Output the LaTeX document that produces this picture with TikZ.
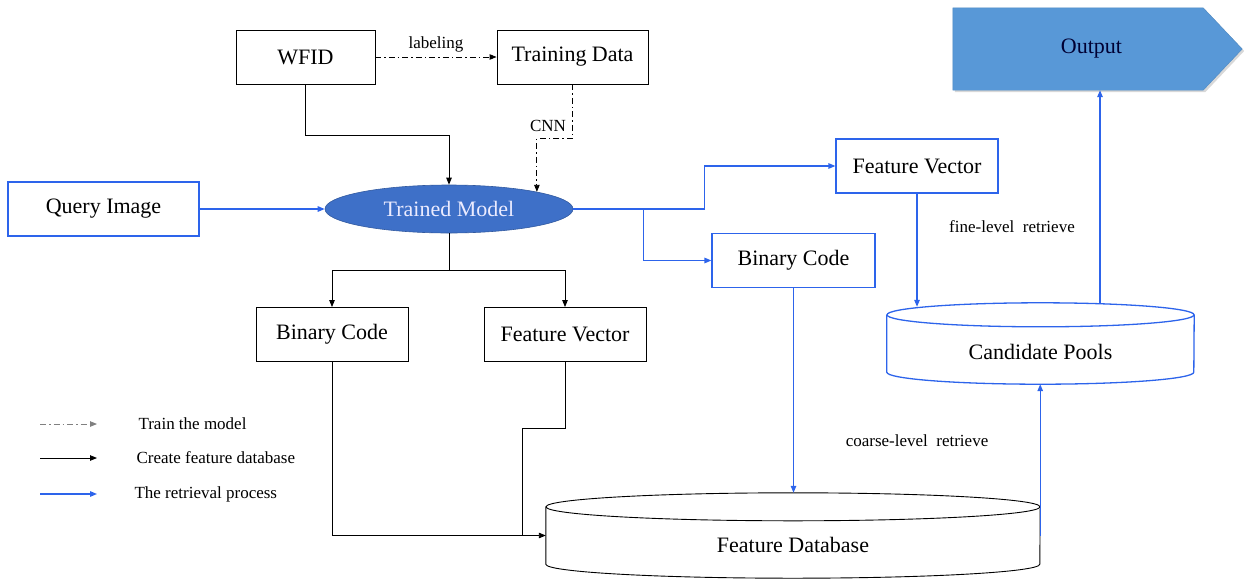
\documentclass[tikz,border=0pt]{standalone}
\usepackage{fontspec}
\setmainfont{Liberation Serif}
\usetikzlibrary{positioning}
\usetikzlibrary{arrows.meta}
\usetikzlibrary{shapes.geometric}
\usetikzlibrary{shadows}
\definecolor{retrblue}{RGB}{45,100,235}
\definecolor{modelblue}{RGB}{62,112,200}
\definecolor{outblue}{RGB}{88,152,215}
\tikzset{
  box/.style={draw=black,line width=0.9pt,minimum height=54pt,inner sep=2pt,
    font=\fontsize{22}{26}\selectfont},
  qbox/.style={box,draw=retrblue,line width=1.2pt},
  model/.style={ellipse,fill=modelblue,draw=modelblue!80!black,line width=0.6pt,
    minimum width=248pt,minimum height=48pt,inner sep=0pt,text=blue!8,
    font=\fontsize{22}{26}\selectfont},
  outbox/.style={minimum width=289pt,minimum height=82pt,inner sep=0pt},
  outfill/.style={fill=outblue,draw=outblue!90!black,line width=0.4pt,
    drop shadow={fill=gray!60,shadow xshift=2pt,shadow yshift=-2pt}},
  dbase/.style={inner sep=0pt,font=\fontsize{22}{26}\selectfont},
  small/.style={font=\fontsize{17}{20}\selectfont},
  legend/.style={small,anchor=west},
  create/.style={draw=black,line width=0.9pt},
  train/.style={draw=black,line width=0.9pt,dash pattern=on 6pt off 3pt on 1.5pt off 3pt},
  retrieve/.style={draw=retrblue,line width=1.3pt}
}

\begin{document}
\begin{tikzpicture}[x=1pt,y=-1pt,>={Triangle[length=7pt,width=5.5pt]}]
    \useasboundingbox (0,0) rectangle (1244,579);
    % top row
    \node[box,minimum width=139pt] (wfid) at (305.5,57) {WFID};
    \node[box,minimum width=151pt] (tdata) at (572.5,57) {Training Data};
    \node[model] (model) at (449,209) {Trained Model};
    \node[qbox,minimum width=191pt] (query) at (103.5,209) {Query Image};
    \node[box,minimum width=152pt] (bincode) at (332,334.5) {Binary Code};
    \node[box,minimum width=162pt] (featvec) at (565,334.5) {Feature Vector};
    \node[qbox,minimum width=163pt] (qbin) at (793.5,260.5) {Binary Code};
    \node[qbox,minimum width=162pt] (qfeat) at (917,166) {Feature Vector};
    % output arrow
    \node[outbox] (out) at (1097.5,49) {};
    \path[outfill] (out.north west) -- ([xshift=-39pt]out.north east) -- (out.east)
      -- ([xshift=-39pt]out.south east) -- (out.south west) -- cycle;
    \node[dbase,text=blue!20!black] at ([xshift=-6pt]out.center) {Output};
    % databases
    \node[dbase,minimum width=494pt,minimum height=85pt] (fdb) at (793,535.5) {};
    \node[dbase] at (793,545) {Feature Database};
    \draw[create] (fdb.north) ++(0,14) ellipse[x radius=247,y radius=14];
    \draw[create] ([yshift=-14pt]fdb.north west) -- ([yshift=14pt]fdb.south west)
      arc[start angle=180,end angle=0,x radius=247,y radius=14] -- ([yshift=-14pt]fdb.north east);
    \node[dbase,minimum width=307pt,minimum height=81pt] (cpool) at (1040.5,343.5) {};
    \node[dbase] at (1040.5,352) {Candidate Pools};
    \draw[retrieve] (cpool.north) ++(0,12) ellipse[x radius=153.5,y radius=12];
    \draw[retrieve] ([yshift=-12pt]cpool.north west) -- ([yshift=12pt]cpool.south west)
      arc[start angle=180,end angle=0,x radius=153.5,y radius=12] -- ([yshift=-12pt]cpool.north east);
    % training
    \draw[train,->] (wfid) -- node[above,small,yshift=1pt] {labeling} (tdata);
    \draw[train,->] (tdata.south) -- ++(0,54) -| (model.north east);
    \node[small] (cnn) at (548,126) {CNN};
    % feature database
    \draw[create,->] (wfid.south) -- ++(0,51) -| (model.north);
    \draw[create] (model.south) -- ++(0,37) coordinate (split);
    \draw[create,->] (split) -| (bincode.north);
    \draw[create,->] (split) -| (featvec.north);
    \draw[create,->] (bincode.south) |- (fdb.west);
    \draw[create] (featvec.south) -- ++(0,66) -| ([xshift=-23pt]fdb.west);
    % retrieval
    \draw[retrieve,->] (query.east) -- (model.west |- query.east);
    \draw[retrieve,->] (model.east) -- ++(131,0) |- (qfeat.west);
    \draw[retrieve,->] (model.east) -- ++(70,0) |- (qbin.west);
    \draw[retrieve,->] (qbin.south) -- (qbin.south |- fdb.north);
    \draw[retrieve,->] (qfeat.south) -- ([yshift=-4pt]cpool.north -| qfeat.south);
    \draw[retrieve,->] (fdb.east) -- (fdb.east |- cpool.south);
    \draw[retrieve,->] ([xshift=2.5pt,yshift=-1pt]cpool.north -| out.south) -- ([xshift=2.5pt]out.south);
    \node[small] (fine) at (1012,227) {fine-level\ \ retrieve};
    \node[small] (coarse) at (917,441) {coarse-level\ \ retrieve};
    % legend
    \node[legend] (lg1) at (135,424) {Train the model};
    \node[legend] (lg2) at (133,458) {Create feature database};
    \node[legend] (lg3) at (131,494) {The retrieval process};
    \draw[train,draw=gray,->] ([xshift=-95pt]lg1.west) -- ([xshift=-38pt]lg1.west);
    \draw[create,->] ([xshift=-93pt]lg2.west) -- ([xshift=-36pt]lg2.west);
    \draw[retrieve,->] ([xshift=-91pt]lg3.west) -- ([xshift=-34pt]lg3.west);
\end{tikzpicture}
\end{document}
